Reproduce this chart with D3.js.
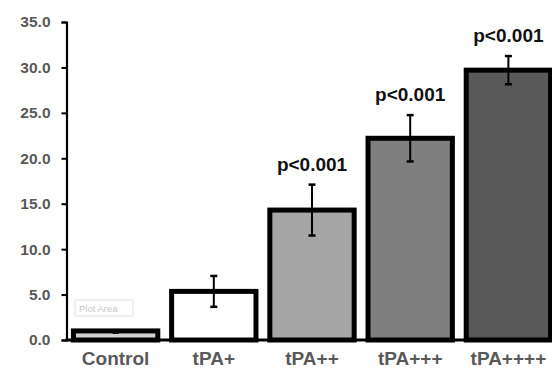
<!DOCTYPE html>
<html>
<head>
<meta charset="utf-8">
<script src="https://cdn.jsdelivr.net/npm/d3@7/dist/d3.min.js"></script>
<style>
  html, body { margin: 0; padding: 0; background: #fff; }
  svg { display: block; }
</style>
</head>
<body>
<svg id="chart" width="552" height="373"></svg>
<script>
const categories = ["Control", "tPA+", "tPA++", "tPA+++", "tPA++++"];
const values = [1.0, 5.35, 14.3, 22.2, 29.7];
const errors = [0.0, 1.7, 2.8, 2.55, 1.55];
const fills = ["#cfcfcf", "#ffffff", "#a6a6a6", "#7f7f7f", "#595959"];
const pLabels = ["", "", "p<0.001", "p<0.001", "p<0.001"];
const yTicks = [0, 5, 10, 15, 20, 25, 30, 35];

const svg = d3.select("#chart");
const font = "'Liberation Sans', Arial, sans-serif";

const y = d3.scaleLinear().domain([0, 35]).range([340, 22]);
const x = d3.scaleBand().domain(categories).range([67, 557])
  .paddingInner(0.09).paddingOuter(0.04);

const sw = 5;

// Y axis
const yAxis = d3.axisLeft(y).tickValues(yTicks).tickSize(5).tickPadding(11)
  .tickFormat(d3.format(".1f"));
const gy = svg.append("g").attr("transform", "translate(66.5,0)").call(yAxis);
gy.select(".domain").attr("stroke", "#000").attr("stroke-width", 2.2);
gy.selectAll(".tick line").attr("stroke", "#000").attr("stroke-width", 2);
gy.selectAll(".tick text")
  .attr("fill", "#595959").attr("font-family", font)
  .attr("font-weight", "bold").attr("font-size", 15.5);

// Bars
svg.append("g").selectAll("rect").data(categories).join("rect")
  .attr("x", (d) => x(d) + sw / 2)
  .attr("width", x.bandwidth() - sw)
  .attr("y", (d, i) => y(values[i]))
  .attr("height", (d, i) => y(0) - y(values[i]))
  .attr("fill", (d, i) => fills[i])
  .attr("stroke", "#000")
  .attr("stroke-width", sw);

// Error bars
const eg = svg.append("g");
categories.forEach((c, i) => {
  const cx = x(c) + x.bandwidth() / 2;
  const hi = y(values[i] + errors[i]);
  const lo = y(values[i] - errors[i]);
  if (errors[i] > 0) {
    eg.append("line").attr("x1", cx).attr("x2", cx).attr("y1", hi).attr("y2", lo)
      .attr("stroke", "#000").attr("stroke-width", 2);
    [hi, lo].forEach(yy => {
      eg.append("line").attr("x1", cx - 3.5).attr("x2", cx + 3.5).attr("y1", yy).attr("y2", yy)
        .attr("stroke", "#000").attr("stroke-width", 2.5);
    });
  } else {
    eg.append("line").attr("x1", cx - 3).attr("x2", cx + 3)
      .attr("y1", y(values[i]) + 2).attr("y2", y(values[i]) + 2)
      .attr("stroke", "#000").attr("stroke-width", 2);
  }
  if (pLabels[i]) {
    svg.append("text").attr("x", cx).attr("y", hi - 14)
      .attr("text-anchor", "middle").attr("font-family", font)
      .attr("font-weight", "bold").attr("font-size", 19).attr("fill", "#111")
      .text(pLabels[i]);
  }
});

// Baseline
svg.append("line").attr("x1", 65.5).attr("x2", 552).attr("y1", y(0)).attr("y2", y(0))
  .attr("stroke", "#000").attr("stroke-width", 3);

// Category labels
const xAxis = d3.axisBottom(x).tickSize(0).tickPadding(12);
const gx = svg.append("g").attr("transform", `translate(0,${y(0)})`).call(xAxis);
gx.select(".domain").remove();
gx.selectAll(".tick text")
  .attr("fill", "#595959").attr("font-family", font)
  .attr("font-weight", "bold").attr("font-size", 19);

// "Plot Area" tooltip artifact
const tip = svg.append("g");
tip.append("rect").attr("x", 75).attr("y", 300).attr("width", 58).attr("height", 16)
  .attr("fill", "#fff").attr("stroke", "#e0e0e0").attr("stroke-width", 1);
tip.append("text").attr("x", 79).attr("y", 312).attr("font-family", font)
  .attr("font-size", 9.5).attr("fill", "#c8c8c8").text("Plot Area");
</script>
</body>
</html>
